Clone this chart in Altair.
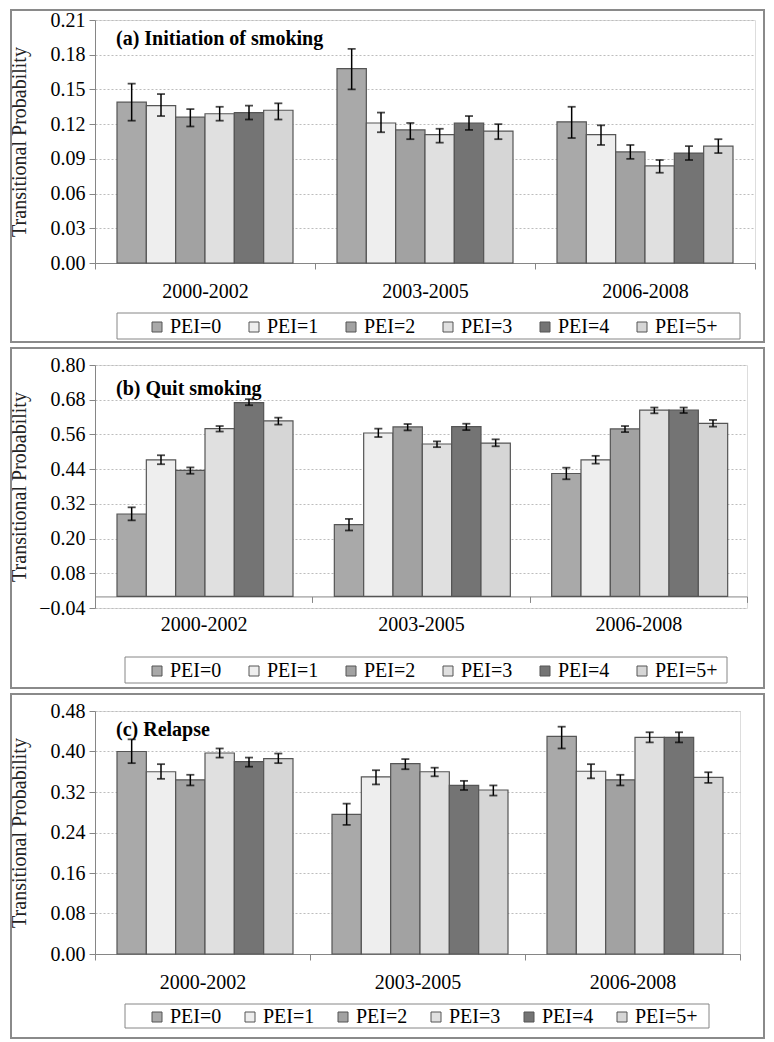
import altair as alt
import pandas as pd

# ---------------- data ----------------
periods = ["2000-2002", "2003-2005", "2006-2008"]
pei_levels = ["PEI=0", "PEI=1", "PEI=2", "PEI=3", "PEI=4", "PEI=5+"]

# (a) Initiation of smoking
a_val = [[0.139, 0.136, 0.126, 0.129, 0.130, 0.132],
         [0.168, 0.121, 0.115, 0.111, 0.121, 0.114],
         [0.122, 0.111, 0.096, 0.084, 0.095, 0.101]]
a_lo = [[0.123, 0.127, 0.118, 0.123, 0.124, 0.124],
        [0.150, 0.113, 0.107, 0.104, 0.115, 0.107],
        [0.108, 0.102, 0.090, 0.078, 0.089, 0.095]]
a_hi = [[0.155, 0.146, 0.133, 0.135, 0.136, 0.138],
        [0.185, 0.130, 0.121, 0.116, 0.127, 0.120],
        [0.135, 0.119, 0.102, 0.089, 0.101, 0.107]]

# (b) Quit smoking
b_val = [[0.285, 0.472, 0.436, 0.580, 0.670, 0.607],
         [0.248, 0.565, 0.586, 0.527, 0.587, 0.530],
         [0.425, 0.472, 0.579, 0.644, 0.644, 0.598]]
b_lo = [[0.263, 0.457, 0.424, 0.570, 0.661, 0.594],
        [0.228, 0.551, 0.574, 0.516, 0.575, 0.519],
        [0.405, 0.459, 0.568, 0.633, 0.634, 0.587]]
b_hi = [[0.308, 0.488, 0.446, 0.589, 0.682, 0.618],
        [0.268, 0.580, 0.596, 0.536, 0.597, 0.543],
        [0.445, 0.486, 0.589, 0.653, 0.653, 0.610]]

# (c) Relapse
c_val = [[0.400, 0.360, 0.344, 0.397, 0.380, 0.386],
         [0.276, 0.350, 0.376, 0.360, 0.333, 0.324],
         [0.430, 0.361, 0.344, 0.428, 0.428, 0.349]]
c_lo = [[0.377, 0.346, 0.333, 0.388, 0.370, 0.377],
        [0.255, 0.335, 0.365, 0.351, 0.324, 0.313],
        [0.406, 0.347, 0.333, 0.418, 0.418, 0.338]]
c_hi = [[0.424, 0.375, 0.354, 0.406, 0.388, 0.396],
        [0.297, 0.363, 0.385, 0.368, 0.342, 0.333],
        [0.449, 0.375, 0.354, 0.438, 0.438, 0.359]]

a_ticks = [0.00, 0.03, 0.06, 0.09, 0.12, 0.15, 0.18, 0.21]
b_ticks = [-0.04, 0.08, 0.20, 0.32, 0.44, 0.56, 0.68, 0.80]
c_ticks = [0.00, 0.08, 0.16, 0.24, 0.32, 0.40, 0.48]

titles = ["(a) Initiation of smoking", "(b) Quit smoking", "(c) Relapse"]

# ---------------- style ----------------
FONT = "Liberation Serif"
GREYS = ["#a9a9a9", "#eeeeee", "#a2a2a2", "#e0e0e0", "#747474", "#d6d6d6"]
AXIS_GREY = "#868686"
H = 243


def make_df(vals, lo, hi):
    rows = []
    for i, p in enumerate(periods):
        for j, g in enumerate(pei_levels):
            rows.append({"period": p, "pei": g, "value": vals[i][j],
                         "lo": lo[i][j], "hi": hi[i][j]})
    return pd.DataFrame(rows)


def panel(title, vals, lo, hi, ticks, width, title_y, frame_top, frame_bottom,
          legend_box, legend_x, legend_y, col_pad):
    df = make_df(vals, lo, hi)
    ymin, ymax = ticks[0], ticks[-1]
    zero_px = H * (ymax - 0) / (ymax - ymin)

    x_axis = alt.Axis(title=None, labelAngle=0, labelFont=FONT, labelFontSize=20,
                      labelColor="black", domainColor=AXIS_GREY, tickColor=AXIS_GREY,
                      tickSize=6, tickBand="extent", labelPadding=12,
                      offset=-(H - zero_px), grid=False)
    x_enc = alt.X("period:N", sort=periods, axis=x_axis,
                  scale=alt.Scale(paddingInner=0, paddingOuter=0))
    xo_enc = alt.XOffset("pei:N", sort=pei_levels,
                         scale=alt.Scale(paddingInner=0, paddingOuter=0.75))
    y_axis = alt.Axis(title="Transitional Probability", values=ticks, format=".2f",
                      labelFont=FONT, labelFontSize=20, labelColor="black",
                      domainColor=AXIS_GREY, tickColor=AXIS_GREY, tickSize=6,
                      labelPadding=4, grid=True, gridColor="#bdbdbd",
                      gridDash=[2, 2], gridWidth=1,
                      titleFont=FONT, titleFontSize=20, titleFontWeight="normal",
                      titleColor="#222222", titleAngle=270, titleX=-76,
                      titleY=H / 2, titleAlign="center", titleBaseline="middle")
    y_scale = alt.Scale(domain=[ymin, ymax], nice=False, zero=False)

    base = alt.Chart(df)

    frame = alt.Chart(pd.DataFrame({"k": [0]})).mark_rect(
        fillOpacity=0, stroke="#8a8a8a", strokeWidth=2
    ).encode(x=alt.value(-84), x2=alt.value(669),
             y=alt.value(frame_top), y2=alt.value(frame_bottom))

    lbox = alt.Chart(pd.DataFrame({"k": [0]})).mark_rect(
        fillOpacity=0, stroke=AXIS_GREY, strokeWidth=1
    ).encode(x=alt.value(legend_box[0]), x2=alt.value(legend_box[1]),
             y=alt.value(legend_box[2]), y2=alt.value(legend_box[3]))

    bars = base.mark_bar(stroke="#555555", strokeWidth=1.2).encode(
        x=x_enc, xOffset=xo_enc,
        y=alt.Y("value:Q", scale=y_scale, axis=y_axis),
        y2=alt.datum(0),
        fill=alt.Fill("pei:N", sort=pei_levels,
                      scale=alt.Scale(domain=pei_levels, range=GREYS),
                      legend=alt.Legend(
                          title=None, orient="none", legendX=legend_x,
                          legendY=legend_y,
                          direction="horizontal", columns=6, gridAlign="all",
                          columnPadding=col_pad, symbolType="square",
                          symbolSize=100, symbolStrokeColor="#555555",
                          symbolStrokeWidth=1, labelFont=FONT, labelFontSize=20,
                          labelColor="black", labelOffset=3, padding=0)),
    )

    err = base.mark_rule(color="black", strokeWidth=1.5).encode(
        x=x_enc, xOffset=xo_enc,
        y=alt.Y("lo:Q", scale=y_scale, axis=y_axis), y2="hi:Q")
    cap_lo = base.mark_tick(color="black", thickness=1.8, size=8).encode(
        x=x_enc, xOffset=xo_enc, y=alt.Y("lo:Q", scale=y_scale, axis=y_axis))
    cap_hi = base.mark_tick(color="black", thickness=1.8, size=8).encode(
        x=x_enc, xOffset=xo_enc, y=alt.Y("hi:Q", scale=y_scale, axis=y_axis))

    ttl = alt.Chart(pd.DataFrame({"t": [title]})).mark_text(
        align="left", baseline="middle", font=FONT, fontSize=20,
        fontWeight="bold", color="black"
    ).encode(text="t:N", x=alt.value(21), y=alt.value(title_y))

    return alt.layer(frame, lbox, bars, err, cap_lo, cap_hi, ttl).properties(
        width=width, height=H)


pa = panel(titles[0], a_val, a_lo, a_hi, a_ticks, 660, 19, -10, 322,
           (22, 645, 293, 319), 52, 297, 11)
pb = panel(titles[1], b_val, b_lo, b_hi, b_ticks, 652, 24, -17, 323,
           (30, 632, 292, 318), 52, 296, 11)
pc = panel(titles[2], c_val, c_lo, c_hi, c_ticks, 645, 19, -17, 327,
           (30, 614, 293, 317), 52, 296, 7)

chart = alt.vconcat(pa, pb, pc, spacing=2, padding=0).resolve_scale(
    fill="independent"
).resolve_legend(fill="independent").configure_view(
    stroke="#a6a6a6", strokeWidth=1.5
).configure(font=FONT)

chart.save("out.html", embed_options={"renderer": "svg", "actions": False})
